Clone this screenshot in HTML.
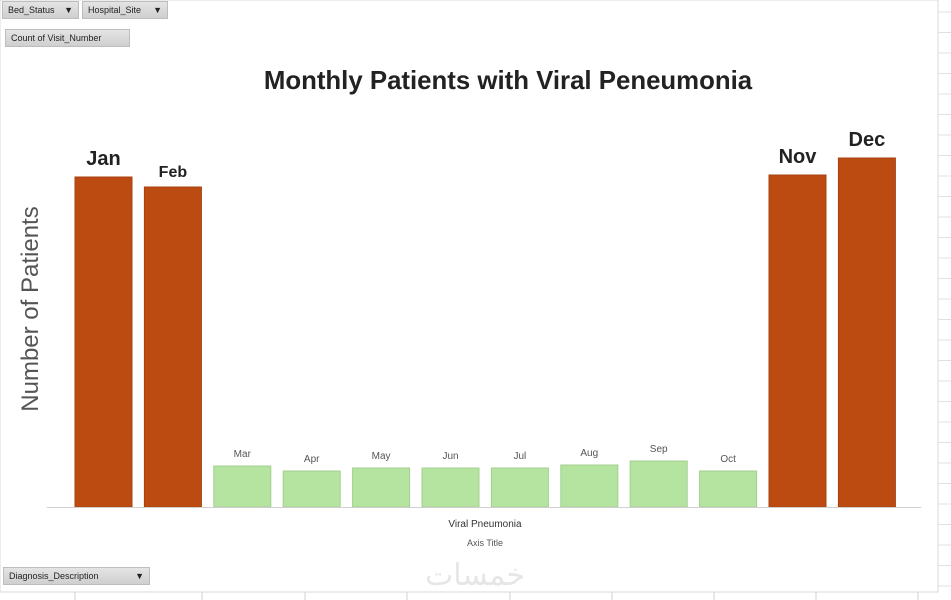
<!DOCTYPE html>
<html><head><meta charset="utf-8">
<style>
body{margin:0;width:951px;height:600px;overflow:hidden;background:#fff;font-family:"Liberation Sans",sans-serif;}
.btn{position:absolute;background:linear-gradient(#e4e4e4,#cfcfcf);border:1px solid #bdbdbd;font-size:9px;color:#222;box-sizing:border-box;padding:2px 5px;height:18px;line-height:13px;}
</style></head><body>
<svg id="chart" width="951" height="600" style="position:absolute;left:0;top:0">
  <g id="grid"></g>
  <rect x="0" y="0" width="938" height="592" fill="#fff" stroke="#d9d9d9"/>
  <text x="508" y="89" text-anchor="middle" font-size="25.8" font-weight="bold" fill="#222">Monthly Patients with Viral Peneumonia</text>
  <text transform="translate(38,309) rotate(-90)" text-anchor="middle" font-size="24" fill="#555">Number of Patients</text>
  <g id="bars"></g>
  <line x1="47" y1="507.5" x2="921" y2="507.5" stroke="#d0d0d0"/>
  <text x="485" y="527" text-anchor="middle" font-size="10" fill="#333">Viral Pneumonia</text>
  <text x="485" y="546" text-anchor="middle" font-size="9" fill="#555">Axis Title</text>
  <text x="475" y="585" text-anchor="middle" font-size="30" fill="#e6e6e6" font-family="'Liberation Sans','DejaVu Sans',sans-serif">خمسات</text>
</svg>
<div class="btn" style="left:2px;top:1px;width:77px">Bed_Status <span style="float:right">▼</span></div>
<div class="btn" style="left:82px;top:1px;width:86px">Hospital_Site <span style="float:right">▼</span></div>
<div class="btn" style="left:5px;top:29px;width:125px">Count of Visit_Number</div>
<div class="btn" style="left:3px;top:567px;width:147px">Diagnosis_Description <span style="float:right">▼</span></div>
<script>
const months=["Jan","Feb","Mar","Apr","May","Jun","Jul","Aug","Sep","Oct","Nov","Dec"];
const patients=[330,320,41,36,39,39,39,42,46,36,332,349];
const highlight=[true,true,false,false,false,false,false,false,false,false,true,true];
const labelSizes=[20,16,10,10,10,10,10,10,10,10,20,20];
const NS="http://www.w3.org/2000/svg";
const base=507, yScale=v=>base-v*1.0, xCenter=i=>103.5+i*69.4, bw=57;
const g=document.getElementById('bars');
months.forEach((m,i)=>{
  const r=document.createElementNS(NS,'rect');
  
  
  const y=yScale(patients[i]);
  r.setAttribute('x',xCenter(i)-bw/2);r.setAttribute('y',y);
  r.setAttribute('width',bw);r.setAttribute('height',base-y);
  r.setAttribute('fill',highlight[i]?'#bc4b12':'#b5e3a0');
  r.setAttribute('stroke',highlight[i]?'#a8420f':'#a3cf90');
  g.appendChild(r);
  const t=document.createElementNS(NS,'text');
  
  
  t.setAttribute('x',xCenter(i));
  t.setAttribute('y',y-(highlight[i]?(labelSizes[i]>16?12:10):9));
  t.setAttribute('text-anchor','middle');
  t.setAttribute('font-size',labelSizes[i]);
  if(highlight[i])t.setAttribute('font-weight','bold');
  t.setAttribute('fill',highlight[i]?'#222':'#555');
  t.textContent=m;g.appendChild(t);
});
const gr=document.getElementById('grid');
for(let y=12;y<600;y+=20.5){const l=document.createElementNS(NS,'line');l.setAttribute('x1',938);l.setAttribute('x2',951);l.setAttribute('y1',y);l.setAttribute('y2',y);l.setAttribute('stroke','#e0e0e0');gr.appendChild(l);}
[75,202,305,407,510,612,714,816,918].forEach(x=>{const l=document.createElementNS(NS,'line');l.setAttribute('x1',x);l.setAttribute('x2',x);l.setAttribute('y1',592);l.setAttribute('y2',600);l.setAttribute('stroke','#d0d0d0');gr.appendChild(l);});
</script>
</body></html>
